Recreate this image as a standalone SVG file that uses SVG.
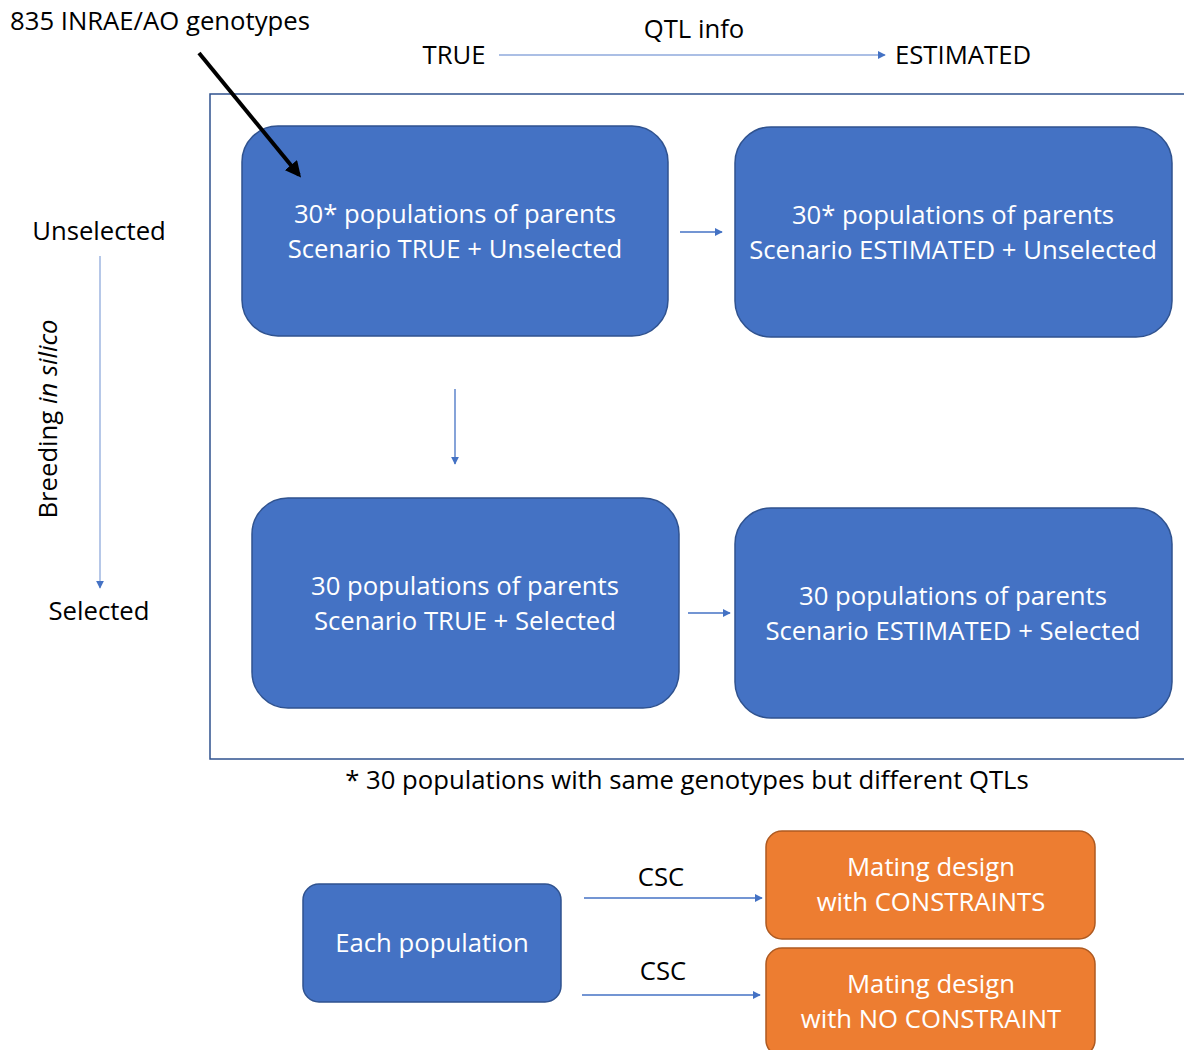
<svg xmlns="http://www.w3.org/2000/svg" width="1184" height="1050" viewBox="0 0 1184 1050">
<style>
text{font-family:"Open Sans","Liberation Sans",sans-serif;font-size:25.7px;}
.dk{fill:#000;}
.wt{fill:#fff;text-anchor:middle;}
.blue{fill:#4472C4;stroke:#2F528F;stroke-width:1.5;}
.orange{fill:#ED7D31;stroke:#AE5A21;stroke-width:1.5;}
.conn{stroke:#4472C4;stroke-width:1.3;fill:none;marker-end:url(#ah);}
</style>
<defs>
<marker id="ah" viewBox="0 0 10 10" refX="9" refY="5" markerWidth="8" markerHeight="8" markerUnits="userSpaceOnUse" orient="auto"><path d="M0,0 L10,5 L0,10 z" fill="#4472C4"/></marker>
<marker id="ahk" viewBox="0 0 10 10" refX="8" refY="5" markerWidth="4" markerHeight="4" orient="auto"><path d="M0,0 L10,5 L0,10 z" fill="#000"/></marker>
</defs>
<rect x="210" y="94" width="990" height="665" fill="none" stroke="#2F528F" stroke-width="1.5"/>
<g id="labels">
<text class="dk" x="10" y="30">835 INRAE/AO genotypes</text>
<text class="dk" x="694" y="38" text-anchor="middle">QTL info</text>
<text class="dk" x="454" y="64" text-anchor="middle">TRUE</text>
<text class="dk" x="963" y="64" text-anchor="middle">ESTIMATED</text>
<text class="dk" x="99" y="240" text-anchor="middle">Unselected</text>
<text class="dk" x="99" y="620" text-anchor="middle">Selected</text>
<text class="dk" transform="translate(57,419) rotate(-90)" text-anchor="middle">Breeding <tspan font-style="italic">in silico</tspan></text>
<text class="dk" x="687" y="789" text-anchor="middle">* 30 populations with same genotypes but different QTLs</text>
<text class="dk" x="661" y="886" text-anchor="middle">CSC</text>
<text class="dk" x="663" y="980" text-anchor="middle">CSC</text>
</g>
<g id="n1"><rect class="blue" x="242" y="126" width="426" height="210" rx="36"/>
<text class="wt" x="455" y="223">30* populations of parents</text><text class="wt" x="455" y="258">Scenario TRUE + Unselected</text></g>
<g id="n2"><rect class="blue" x="735" y="127" width="437" height="210" rx="36"/>
<text class="wt" x="953" y="224">30* populations of parents</text><text class="wt" x="953" y="259">Scenario ESTIMATED + Unselected</text></g>
<g id="n3"><rect class="blue" x="252" y="498" width="427" height="210" rx="36"/>
<text class="wt" x="465" y="595">30 populations of parents</text><text class="wt" x="465" y="630">Scenario TRUE + Selected</text></g>
<g id="n4"><rect class="blue" x="735" y="508" width="437" height="210" rx="36"/>
<text class="wt" x="953" y="605">30 populations of parents</text><text class="wt" x="953" y="640">Scenario ESTIMATED + Selected</text></g>
<g id="n5"><rect class="blue" x="303" y="884" width="258" height="118" rx="16"/>
<text class="wt" x="432" y="952">Each population</text></g>
<g id="n6"><rect class="orange" x="766" y="831" width="329" height="108" rx="16"/>
<text class="wt" x="931" y="876">Mating design</text><text class="wt" x="931" y="911">with CONSTRAINTS</text></g>
<g id="n7"><rect class="orange" x="766" y="948" width="329" height="108" rx="16"/>
<text class="wt" x="931" y="993">Mating design</text><text class="wt" x="931" y="1028">with NO CONSTRAINT</text></g>
<g id="connectors">
<line x1="199" y1="53" x2="299" y2="175" stroke="#000" stroke-width="4" marker-end="url(#ahk)"/>
<line class="conn" x1="499" y1="55" x2="885" y2="55" style="stroke:#8FAADC"/>
<line class="conn" x1="100" y1="256" x2="100" y2="588" style="stroke:#8FAADC"/>
<line class="conn" x1="680" y1="232" x2="722" y2="232"/>
<line class="conn" x1="455" y1="389" x2="455" y2="464"/>
<line class="conn" x1="688" y1="613" x2="730" y2="613"/>
<line class="conn" x1="584" y1="898" x2="762" y2="898"/>
<line class="conn" x1="582" y1="995" x2="760" y2="995"/>
</g>
</svg>
